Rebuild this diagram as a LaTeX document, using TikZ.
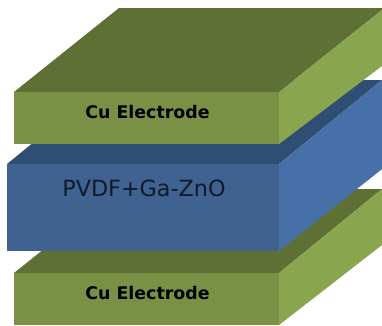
\documentclass[tikz,border=0pt]{standalone}
\usepackage{fontspec}
\setmainfont{DejaVu Sans}
\definecolor{gTop}{HTML}{5F7035}
\definecolor{gFront}{HTML}{7A9145}
\definecolor{gSide}{HTML}{89A64F}
\definecolor{bTop}{HTML}{2F4E74}
\definecolor{bFront}{HTML}{3F6291}
\definecolor{bSide}{HTML}{4770A8}
\definecolor{pvInk}{HTML}{101A28}
\tikzset{
  face/.style={line join=round},
  cuLabel/.style={font=\bfseries\fontsize{17.4}{20}\selectfont,text=black,inner sep=0pt},
  pvLabel/.style={font=\fontsize{22.3}{26}\selectfont,text=pvInk,inner sep=0pt}
}
\begin{document}
\begin{tikzpicture}[x=1pt,y=-1pt]
\useasboundingbox (0,0) rectangle (382,325);
\fill[white] (0,0) rectangle (382,325);
% bottom electrode
\fill[gTop,face] (14,273) -- (119,189) -- (382,189) -- (279,273) -- cycle;
\fill[gFront,face] (14,273) rectangle (279,325);
\fill[gSide,face] (279,273) -- (382,189) -- (382,245) -- (279,325) -- cycle;
% PVDF layer
\fill[bTop,face] (7,164) -- (110,80) -- (382,80) -- (279,164) -- cycle;
\fill[bFront,face] (7,164) rectangle (279,251);
\fill[bSide,face] (279,164) -- (382,80) -- (382,169) -- (279,251) -- cycle;
% top electrode
\fill[gTop,face] (14,92) -- (119,8) -- (382,8) -- (382,10) -- (279,92) -- cycle;
\fill[gFront,face] (14,92) rectangle (279,144);
\fill[gSide,face] (279,92) -- (382,10) -- (382,66) -- (279,144) -- cycle;
% labels
\node[cuLabel] (top) at (147.5,112.5) {Cu Electrode};
\node[pvLabel] (mid) at (144,188.5) {PVDF+Ga-ZnO};
\node[cuLabel] (bot) at (147.5,293) {Cu Electrode};
\end{tikzpicture}
\end{document}
